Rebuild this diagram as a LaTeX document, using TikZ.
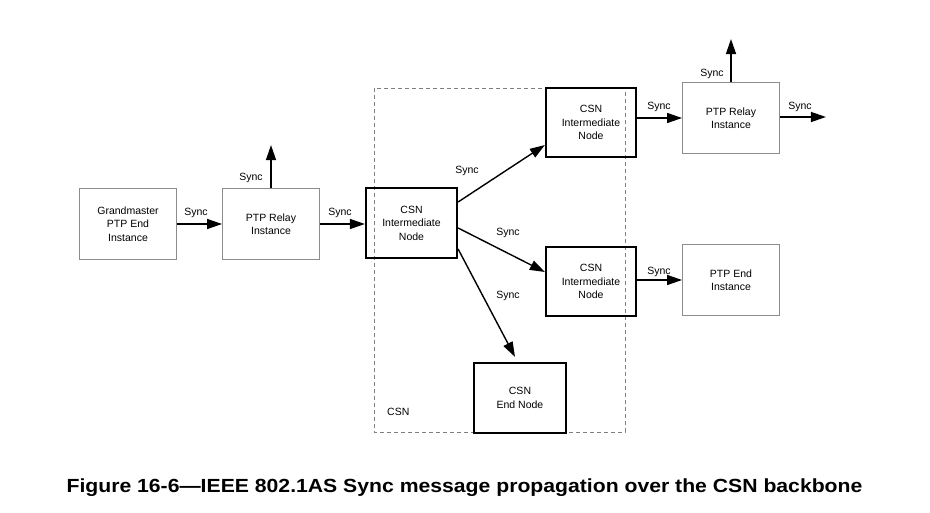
\documentclass[tikz,border=0pt]{standalone}
\usepackage{fontspec}
\setmainfont{Liberation Sans}
\usetikzlibrary{arrows.meta,calc}
\begin{document}
\begin{tikzpicture}[x=1pt,y=-1pt,
  boxtxt/.style={align=center, font=\fontsize{10.5}{13.5}\selectfont, inner sep=0pt},
  csnbox/.style={boxtxt, draw=black, line width=2.2pt, minimum width=90pt, minimum height=69pt},
  ptpbox/.style={boxtxt, draw=black!45, line width=0.9pt, minimum width=97pt, minimum height=71pt},
  flow/.style={line width=1.4pt, -{Triangle[length=15pt,width=10pt]}},
  lbl/.style={font=\fontsize{10.5}{13}\selectfont, inner sep=1pt},
  region/.style={draw=black!50, line width=0.8pt, dash pattern=on 4pt off 3pt}
]
\useasboundingbox (0,0) rectangle (930,513);

% CSN region
\draw[region] (374,88) rectangle (625,432);
\node[lbl, anchor=west] (csnlbl) at (386,412) {CSN};

% boxes
\node[ptpbox] (gm) at (128,224) {Grandmaster\\PTP End\\Instance};
\node[ptpbox] (r1) at (271,224) {PTP Relay\\Instance};
\node[csnbox, minimum width=91pt, minimum height=70pt] (c1) at (411.5,223) {CSN\\Intermediate\\Node};
\node[csnbox] (c2) at (591,122.5) {CSN\\Intermediate\\Node};
\node[ptpbox] (r2) at (731,118) {PTP Relay\\Instance};
\node[csnbox] (c3) at (591,281.5) {CSN\\Intermediate\\Node};
\node[ptpbox] (pe) at (731,280) {PTP End\\Instance};
\node[csnbox, minimum width=92pt, minimum height=70pt] (ce) at (520,398) {CSN\\End Node};

% free ends
\coordinate (r1up) at ($(r1.north)+(0,-43)$);
\coordinate (r2up) at ($(r2.north)+(0,-43)$);
\coordinate (r2out) at ($(r2.east)+(46,-1)$);

% connectors
\draw[flow] (gm.east) -- (r1.west);
\draw[flow] (r1.east) -- (r1.east -| c1.west);
\draw[flow] (r1.north) -- (r1up);
\draw[flow] ([yshift=21pt]c1.east) -- ([yshift=-22.5pt]c2.west);
\draw[flow] ([yshift=-5pt]c1.east) -- ([yshift=9.5pt]c3.west);
\draw[flow] ([yshift=-26pt]c1.east) -- ([xshift=-5pt,yshift=5pt]ce.north);
\draw[flow] (c2.east |- r2.west) -- (r2.west);
\draw[flow] (r2.north) -- (r2up);
\draw[flow] ([yshift=1pt]r2.east) -- (r2out);
\draw[flow] (c3.east |- pe.west) -- (pe.west);

% labels
\node[lbl] (s1) at (196,213) {Sync};
\node[lbl] (s2) at (340,213) {Sync};
\node[lbl] (s3) at (251,178) {Sync};
\node[lbl] (s4) at (467,171) {Sync};
\node[lbl] (s5) at (508,233) {Sync};
\node[lbl] (s6) at (508,296) {Sync};
\node[lbl] (s7) at (659,107) {Sync};
\node[lbl] (s8) at (712,74) {Sync};
\node[lbl] (s9) at (800,107) {Sync};
\node[lbl] (s10) at (659,272) {Sync};

% caption
\node[inner sep=0pt] (cap) at (464.5,488)
  {\scalebox{1.115}[1]{\fontsize{19}{22}\selectfont\bfseries Figure 16-6---IEEE 802.1AS Sync message propagation over the CSN backbone}};
\end{tikzpicture}
\end{document}
